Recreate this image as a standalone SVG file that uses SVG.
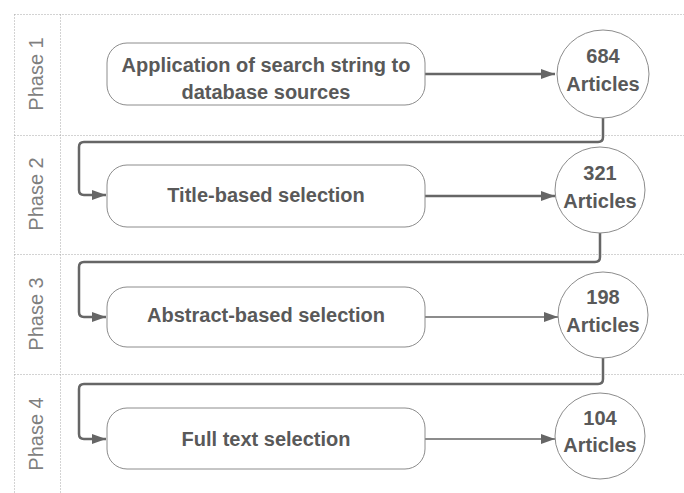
<svg xmlns="http://www.w3.org/2000/svg" width="684" height="493" viewBox="0 0 684 493">
  <style>
    .grid { stroke: #a6a6a6; stroke-width: 1; stroke-dasharray: 1 2; fill: none; }
    .phase { font-family: "Liberation Sans", Arial, sans-serif; font-size: 20px; fill: #7f7f7f; text-anchor: middle; }
    .box { fill: #ffffff; stroke: #8c8c8c; stroke-width: 1; }
    .circ { fill: #ffffff; stroke: #8c8c8c; stroke-width: 1; }
    .lbl { font-family: "Liberation Sans", Arial, sans-serif; font-size: 20px; font-weight: bold; fill: #595959; text-anchor: middle; }
    .thick { stroke: #666666; stroke-width: 2.5; fill: none; }
    .thin { stroke: #666666; stroke-width: 1.5; fill: none; }
  </style>
  <defs>
    <marker id="arrow" markerUnits="userSpaceOnUse" markerWidth="14" markerHeight="10" refX="14" refY="5" orient="auto">
      <path d="M0,0 L14,5 L0,10 Z" fill="#666666"/>
    </marker>
  </defs>
  <rect width="684" height="493" fill="#ffffff"/>

  <g id="lanes">
    <line class="grid" x1="14.5" y1="14.5" x2="684" y2="14.5"/>
    <line class="grid" x1="14.5" y1="135.5" x2="684" y2="135.5"/>
    <line class="grid" x1="14.5" y1="254.5" x2="684" y2="254.5"/>
    <line class="grid" x1="14.5" y1="374.5" x2="684" y2="374.5"/>
    <line class="grid" x1="14.5" y1="14.5" x2="14.5" y2="493"/>
    <line class="grid" x1="60.5" y1="14.5" x2="60.5" y2="493"/>
    <text class="phase" transform="translate(43,74) rotate(-90)">Phase 1</text>
    <text class="phase" transform="translate(43,194) rotate(-90)">Phase 2</text>
    <text class="phase" transform="translate(43,314) rotate(-90)">Phase 3</text>
    <text class="phase" transform="translate(43,434) rotate(-90)">Phase 4</text>
  </g>

  <g id="connectors">
    <line class="thick" x1="425" y1="74" x2="555" y2="74" marker-end="url(#arrow)"/>
    <line class="thick" x1="425" y1="196" x2="555" y2="196" marker-end="url(#arrow)"/>
    <line class="thin" x1="425" y1="317" x2="558" y2="317" marker-end="url(#arrow)"/>
    <line class="thin" x1="425" y1="439" x2="555" y2="439" marker-end="url(#arrow)"/>
    <path class="thick" d="M603,118 V137 Q603,142 598,142 H84 Q79,142 79,147 V190 Q79,195 84,195 H106" marker-end="url(#arrow)"/>
    <path class="thick" d="M600,233 V257 Q600,262 595,262 H84 Q79,262 79,267 V312 Q79,317 84,317 H106" marker-end="url(#arrow)"/>
    <path class="thick" d="M603,358 V379 Q603,384 598,384 H84 Q79,384 79,389 V434 Q79,439 84,439 H106" marker-end="url(#arrow)"/>
  </g>

  <g id="step1">
    <rect class="box" x="107" y="43" width="318" height="62" rx="20" ry="20"/>
    <text class="lbl" x="266" y="72">Application of search string to</text>
    <text class="lbl" x="266" y="99">database sources</text>
  </g>
  <g id="result1">
    <ellipse class="circ" cx="603" cy="74" rx="46" ry="44"/>
    <text class="lbl" x="603" y="63">684</text>
    <text class="lbl" x="603" y="91">Articles</text>
  </g>

  <g id="step2">
    <rect class="box" x="107" y="165" width="318" height="62" rx="20" ry="20"/>
    <text class="lbl" x="266" y="202">Title-based selection</text>
  </g>
  <g id="result2">
    <ellipse class="circ" cx="600" cy="190" rx="45" ry="43"/>
    <text class="lbl" x="600" y="180">321</text>
    <text class="lbl" x="600" y="208">Articles</text>
  </g>

  <g id="step3">
    <rect class="box" x="107" y="287" width="318" height="60" rx="20" ry="20"/>
    <text class="lbl" x="266" y="322">Abstract-based selection</text>
  </g>
  <g id="result3">
    <ellipse class="circ" cx="603" cy="315" rx="45" ry="43"/>
    <text class="lbl" x="603" y="304">198</text>
    <text class="lbl" x="603" y="332">Articles</text>
  </g>

  <g id="step4">
    <rect class="box" x="107" y="408" width="318" height="61" rx="20" ry="20"/>
    <text class="lbl" x="266" y="446">Full text selection</text>
  </g>
  <g id="result4">
    <ellipse class="circ" cx="600" cy="436" rx="45" ry="43"/>
    <text class="lbl" x="600" y="425">104</text>
    <text class="lbl" x="600" y="452">Articles</text>
  </g>
</svg>
